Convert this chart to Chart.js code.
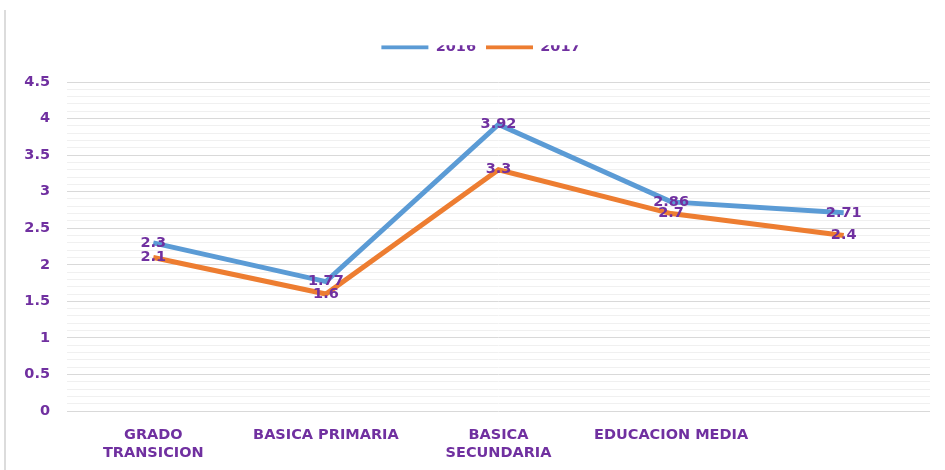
<!DOCTYPE html>
<html>
<head>
<meta charset="utf-8">
<script src="https://cdn.jsdelivr.net/npm/chart.js@4.4.1/dist/chart.umd.min.js"></script>
<style>
  body { margin: 0; background: #fff; }
  #wrap { position: relative; width: 945px; height: 470px; }
  #edge { position: absolute; left: 4px; top: 10px; width: 2px; height: 460px; background: #dcdcdc; }
</style>
</head>
<body>
<div id="wrap">
  <div id="edge"></div>
  <canvas id="myChart" width="945" height="470"></canvas>
</div>
<script>
const categories = [["GRADO", "TRANSICION"], "BASICA PRIMARIA", ["BASICA", "SECUNDARIA"], "EDUCACION MEDIA", ""];
const values2016 = [2.3, 1.77, 3.92, 2.86, 2.71];
const values2017 = [2.1, 1.6, 3.3, 2.7, 2.4];
const seriesNames = ["2016", "2017"];

const purple = "#7030a0";
const font = { family: "DejaVu Sans", weight: "bold", size: 14.5 };

// values written on the points
const pointLabels = {
  id: "pointLabels",
  afterDatasetsDraw(chart) {
    const ctx = chart.ctx;
    ctx.save();
    ctx.font = "bold 14.5px 'DejaVu Sans'";
    ctx.fillStyle = purple;
    ctx.textAlign = "center";
    ctx.textBaseline = "middle";
    chart.data.datasets.forEach((ds, i) => {
      chart.getDatasetMeta(i).data.forEach((pt, j) => {
        ctx.fillText(String(ds.data[j]), pt.x, pt.y);
      });
    });
    ctx.restore();
  }
};

// fixed legend height so the plot starts where the original does,
// and the legend sits a little right of centre like in the original
const legendTweak = {
  id: "legendTweak",
  beforeInit(chart) {
    const lg = chart.legend;
    const fit = lg.fit;
    lg.fit = function () {
      fit.call(this);
      this.height = 52;
    };
    const draw = lg.draw;
    lg.draw = function () {
      this.ctx.save();
      this.ctx.translate(16, 0);
      draw.call(this);
      this.ctx.restore();
    };
  }
};

// the source picture is cropped through the legend
const cropTop = {
  id: "cropTop",
  afterDraw(chart) {
    const boxes = chart.legend.legendHitBoxes;
    if (!boxes.length) return;
    const mid = boxes[0].top + boxes[0].height / 2;
    chart.ctx.save();
    chart.ctx.fillStyle = "#fff";
    chart.ctx.fillRect(0, 0, chart.width, mid - 2);
    chart.ctx.restore();
  }
};

const config = {
  type: "line",
  data: {
    labels: categories,
    datasets: [
      {
        label: seriesNames[0],
        data: values2016,
        borderColor: "#5b9bd5",
        backgroundColor: "#5b9bd5",
        borderWidth: 5,
        pointRadius: 0,
        tension: 0,
      },
      {
        label: seriesNames[1],
        data: values2017,
        borderColor: "#ed7d31",
        backgroundColor: "#ed7d31",
        borderWidth: 5,
        pointRadius: 0,
        tension: 0,
      },
    ],
  },
  options: {
    responsive: false,
    maintainAspectRatio: false,
    animation: false,
    layout: {
      padding: { top: 30, right: 15, bottom: 7, left: 0 },
    },
    scales: {
      x: {
        offset: true,
        afterFit: (scale) => { scale.height = 52; },
        grid: { display: false, drawTicks: false },
        border: { display: false },
        ticks: {
          color: purple,
          font: { ...font, lineHeight: 1.25 },
          padding: 15,
          maxRotation: 0,
          autoSkip: false,
        },
      },
      y: {
        min: 0,
        max: 4.5,
        afterFit: (scale) => { scale.width = 67; },
        grid: {
          drawTicks: false,
          color: (c) => (Math.round(c.tick.value * 10) % 5 === 0 ? "#d9d9d9" : "#f0f0f0"),
          lineWidth: 1,
        },
        border: { display: false },
        ticks: {
          stepSize: 0.1,
          autoSkip: false,
          color: purple,
          font: font,
          padding: 17,
          callback: (v) => {
            const t = Math.round(v * 10);
            return t % 5 === 0 ? String(t / 10) : "";
          },
        },
      },
    },
    plugins: {
      legend: {
        position: "top",
        labels: {
          usePointStyle: true,
          pointStyle: "line",
          pointStyleWidth: 47,
          boxHeight: 14,
          color: purple,
          font: font,
          padding: 10,
          generateLabels: (chart) =>
            Chart.defaults.plugins.legend.labels.generateLabels(chart).map((item) => ({ ...item, lineWidth: 4 })),
        },
      },
      tooltip: { enabled: false },
    },
  },
  plugins: [legendTweak, pointLabels, cropTop],
};

const ctx = document.getElementById("myChart").getContext("2d");
new Chart(ctx, config);
</script>
</body>
</html>
